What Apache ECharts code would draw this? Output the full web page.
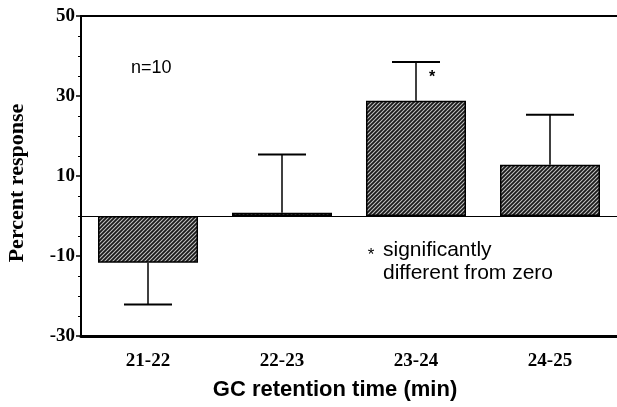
<!DOCTYPE html>
<html>
<head>
<meta charset="utf-8">
<script src="https://cdn.jsdelivr.net/npm/echarts@6/dist/echarts.min.js"></script>
<style>
  html, body { margin: 0; padding: 0; background: #fff; }
  #chart { width: 617px; height: 407px; }
</style>
</head>
<body>
<div id="chart"></div>
<script>
// values
const categories = ['21-22', '22-23', '23-24', '24-25'];
const means = [-11.7, 0.8, 28.8, 12.8];
const errorEnds = [-22.1, 15.4, 38.5, 25.3];
const yTicks = [-30, -10, 10, 30, 50];

// diagonal hatch fill
function hatch() {
    const c = document.createElement('canvas');
    c.width = 4; c.height = 4;
    const ctx = c.getContext('2d');
    ctx.fillStyle = '#c4c4c4';
    ctx.fillRect(0, 0, 4, 4);
    ctx.strokeStyle = '#1a1a1a';
    ctx.lineWidth = 1.8;
    ctx.beginPath();
    ctx.moveTo(-1, 5); ctx.lineTo(5, -1);
    ctx.moveTo(-1, 1); ctx.lineTo(1, -1);
    ctx.moveTo(3, 5); ctx.lineTo(5, 3);
    ctx.stroke();
    return c;
}

const chart = echarts.init(document.getElementById('chart'));

const option = {
    animation: false,
    grid: { left: 81, right: -4, top: 16, bottom: 71 },
    xAxis: [{
        type: 'category',
        data: categories,
        position: 'bottom',
        axisLine: { onZero: false, lineStyle: { color: '#000', width: 3 } },
        axisTick: { show: false },
        axisLabel: { color: '#000', fontFamily: 'Liberation Serif', fontWeight: 'bold', fontSize: 19, margin: 16 }
    }, {
        type: 'category',
        data: categories,
        position: 'top',
        axisLine: { onZero: false, lineStyle: { color: '#000', width: 2 } },
        axisTick: { show: false },
        axisLabel: { show: false }
    }],
    yAxis: {
        type: 'value',
        min: yTicks[0],
        max: yTicks[yTicks.length - 1],
        interval: 20,
        axisLine: { show: true, lineStyle: { color: '#000', width: 2 } },
        axisTick: { show: true, length: 5, lineStyle: { color: '#000', width: 1.5 } },
        minorTick: { show: true, splitNumber: 4, length: 3, lineStyle: { color: '#000' } },
        splitLine: { show: false },
        axisLabel: { color: '#000', fontFamily: 'Liberation Serif', fontWeight: 'bold', fontSize: 19, margin: 6 }
    },
    series: [{
        type: 'bar',
        data: means,
        barWidth: 100,
        itemStyle: {
            color: { image: hatch(), repeat: 'repeat' },
            borderColor: '#000',
            borderWidth: 1.5
        },
        markLine: {
            silent: true,
            symbol: 'none',
            label: { show: false },
            lineStyle: { color: '#000', width: 1.2, type: 'solid' },
            data: [{ yAxis: 0 }]
        },
        z: 3
    }, {
        type: 'custom',
        data: errorEnds.map((e, i) => [i, means[i], e]),
        renderItem: function (params, api) {
            const base = api.coord([api.value(0), api.value(1)]);
            const end = api.coord([api.value(0), api.value(2)]);
            const half = 24;
            return {
                type: 'group',
                children: [{
                    type: 'line',
                    shape: { x1: base[0], y1: base[1], x2: end[0], y2: end[1] },
                    style: { stroke: '#000', lineWidth: 1.5 }
                }, {
                    type: 'line',
                    shape: { x1: end[0] - half, y1: end[1], x2: end[0] + half, y2: end[1] },
                    style: { stroke: '#000', lineWidth: 2 }
                }]
            };
        },
        z: 4
    }],
    graphic: [{
        type: 'text', x: 17, y: 183, rotation: Math.PI / 2,
        style: { text: 'Percent response', font: 'bold 22px "Liberation Serif"', fill: '#000', align: 'center', verticalAlign: 'middle' }
    }, {
        type: 'text', x: 335, y: 390,
        style: { text: 'GC retention time (min)', font: 'bold 22px "Liberation Sans"', fill: '#000', align: 'center', verticalAlign: 'middle' }
    }, {
        type: 'text', x: 131, y: 68,
        style: { text: 'n=10', font: '18px "Liberation Sans"', fill: '#000', verticalAlign: 'middle' }
    }, {
        type: 'text', x: 432, y: 78,
        style: { text: '*', font: 'bold 16px "Liberation Sans"', fill: '#000', align: 'center', verticalAlign: 'middle' }
    }, {
        type: 'text', x: 371, y: 255,
        style: { text: '*', font: '17px "Liberation Sans"', fill: '#000', align: 'center', verticalAlign: 'middle' }
    }, {
        type: 'text', x: 383, y: 262,
        style: { text: 'significantly\ndifferent from zero', font: '21px "Liberation Sans"', lineHeight: 23, fill: '#000', verticalAlign: 'middle' }
    }]
};

chart.setOption(option);
</script>
</body>
</html>
